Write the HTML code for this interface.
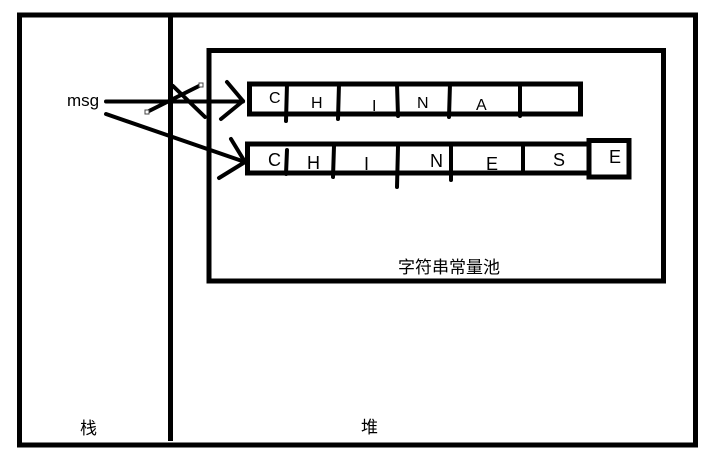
<!DOCTYPE html>
<html><head><meta charset="utf-8"><style>
html,body{margin:0;padding:0;background:#fff;}
svg{display:block;}
text{font-family:"Liberation Sans","Noto Sans CJK SC",sans-serif;fill:#000;}
</style></head><body>
<svg width="722" height="459" viewBox="0 0 722 459" xmlns="http://www.w3.org/2000/svg">
<g fill="none" stroke="#000" stroke-width="5">
<rect x="19.5" y="15" width="676" height="430"/>
<line x1="170.5" y1="15" x2="170.5" y2="441"/>
<rect x="209" y="50.5" width="454.5" height="230.5"/>
<rect x="249.5" y="84" width="331" height="30"/>
<rect x="247.5" y="144" width="341.5" height="29"/>
<rect x="589" y="140.5" width="40" height="36.5"/>
</g>
<g stroke="#000" stroke-width="4" stroke-linecap="round">
<line x1="287" y1="84" x2="286" y2="121"/>
<line x1="339" y1="84" x2="338" y2="119"/>
<line x1="397" y1="84" x2="398" y2="116"/>
<line x1="450" y1="84" x2="449" y2="117"/>
<line x1="520" y1="84" x2="520" y2="116"/>
<line x1="287" y1="150" x2="286" y2="174"/>
<line x1="334" y1="146" x2="333" y2="177"/>
<line x1="398" y1="147" x2="397" y2="187"/>
<line x1="451" y1="144" x2="451" y2="180"/>
<line x1="523" y1="147" x2="523" y2="172"/>
<line x1="106" y1="101.5" x2="243" y2="101.5"/>
<line x1="227" y1="82" x2="243" y2="101"/>
<line x1="243" y1="101" x2="221" y2="119"/>
<line x1="147" y1="112" x2="201" y2="85"/>
<line x1="173" y1="86" x2="205" y2="117"/>
<line x1="106" y1="114" x2="245" y2="162"/>
<line x1="231" y1="139" x2="245" y2="162"/>
<line x1="245" y1="162" x2="219" y2="178"/>
</g>
<rect x="145" y="110" width="4" height="4" fill="#fff" stroke="#444" stroke-width="1"/>
<rect x="199" y="83" width="4" height="4" fill="#fff" stroke="#444" stroke-width="1"/>
<text x="67" y="106" font-size="17">msg</text>
<g font-size="16">
<text x="269" y="103">C</text>
<text x="311" y="108">H</text>
<text x="372" y="111">I</text>
<text x="417" y="108">N</text>
<text x="476" y="110">A</text>
</g>
<g font-size="18">
<text x="268" y="166">C</text>
<text x="307" y="169">H</text>
<text x="364" y="170">I</text>
<text x="430" y="167">N</text>
<text x="486" y="170">E</text>
<text x="553" y="166">S</text>
<text x="609" y="163">E</text>
</g>
<g font-size="17">
<text x="398" y="273">字符串常量池</text>
<text x="80" y="434">栈</text>
<text x="361" y="433">堆</text>
</g>
</svg>
</body></html>
